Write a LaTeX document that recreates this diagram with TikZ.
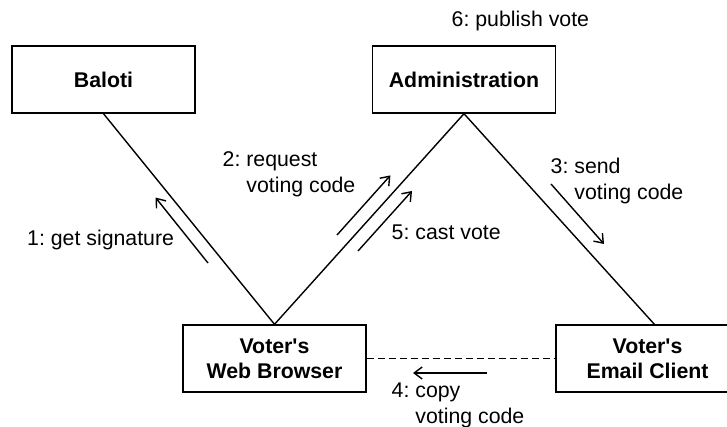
\documentclass[tikz,border=0pt]{standalone}
\usepackage{fontspec}
\setmainfont{Liberation Sans}
\usetikzlibrary{arrows.meta}
\frenchspacing
\begin{document}
\begin{tikzpicture}[x=1pt, y=-1pt,
  obj/.style={draw, line width=1.4pt, minimum width=183pt, minimum height=67pt,
    inner sep=0pt, align=center, font=\bfseries\fontsize{21.3}{25}\selectfont},
  link/.style={line width=1.4pt},
  msg/.style={line width=1.4pt, -{Straight Barb[length=8pt,width=12pt,line width=1.4pt]}},
  lbl/.style={inner sep=0pt, anchor=base west, align=left,
    font=\fontsize{21.3}{25.5}\selectfont}]
  \useasboundingbox (0,0) rectangle (727,427);

  % objects
  \node[obj] (baloti)  at (103.5,79.5) {Baloti};
  \node[obj] (admin)   at (464,79.5)   {Administration};
  \node[obj] (browser) at (274.5,358.5) {Voter\textquotesingle s\\Web Browser};
  \node[obj] (email)   at (647.5,358.5) {Voter\textquotesingle s\\Email Client};
  \coordinate (emailtop) at (655,325);

  % links
  \draw[link] (baloti.south) -- (browser.north);
  \draw[link] (admin.south) -- (browser.north);
  \draw[link] (admin.south) -- (emailtop);
  \draw[link, dash pattern=on 7pt off 4pt] (browser.east) -- (email.west);

  % messages
  \coordinate (m1s) at (208,263);   \coordinate (m1e) at (155.5,197.5);
  \coordinate (m2s) at (337,235);   \coordinate (m2e) at (390.4,175.4);
  \coordinate (m5s) at (358,251);   \coordinate (m5e) at (412,191);
  \coordinate (m3s) at (551,184);   \coordinate (m3e) at (604,244);
  \coordinate (m4s) at (487,373);   \coordinate (m4e) at (413,373);
  \draw[msg] (m1s) -- (m1e);
  \draw[msg] (m2s) -- (m2e);
  \draw[msg] (m5s) -- (m5e);
  \draw[msg] (m3s) -- (m3e);
  \draw[msg] (m4s) -- (m4e);

  % message labels (multi-line labels sit on the baseline of their last line)
  \node[lbl] (l6) at (451.5,26.5) {6: publish vote};
  \node[lbl] (l1) at (27,246) {1: get signature};
  \node[lbl] (l2) at (222.5,192.5) {2: request\\\phantom{2: }voting code};
  \node[lbl] (l5) at (391.5,240) {5: cast vote};
  \node[lbl] (l3) at (550.5,199.5) {3: send\\\phantom{3: }voting code};
  \node[lbl] (l4) at (391.5,423) {4: copy\\\phantom{4: }voting code};
\end{tikzpicture}
\end{document}
